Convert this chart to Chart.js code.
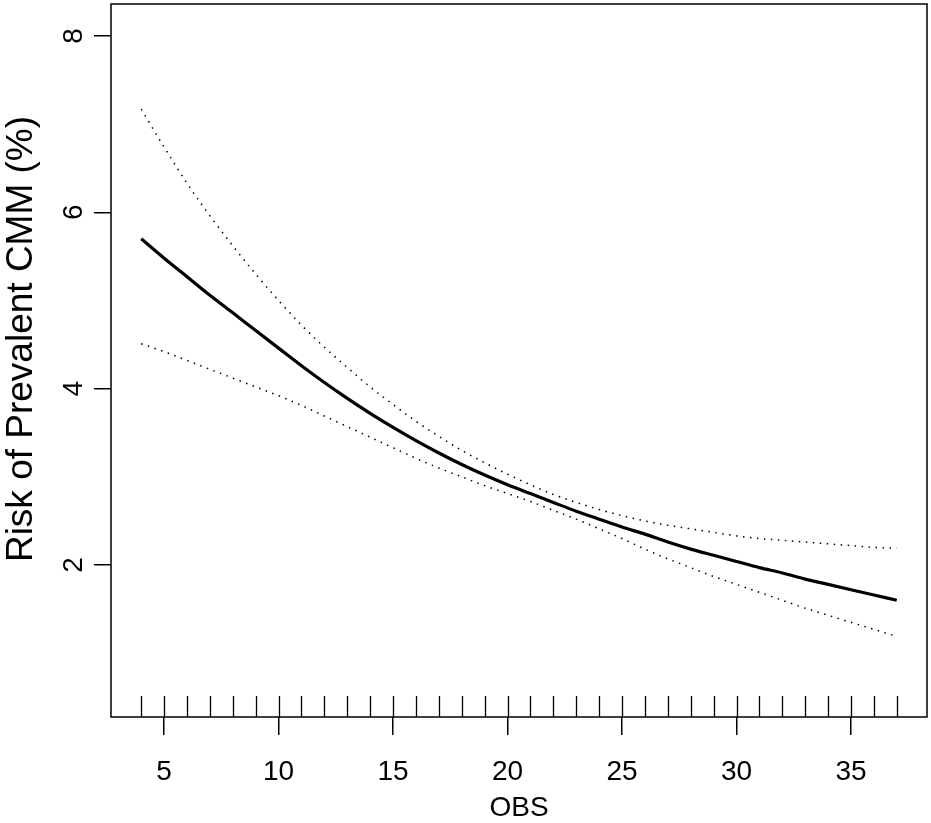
<!DOCTYPE html>
<html>
<head>
    <style>
        body { margin: 0; background: #fff; }
        canvas { display: block; }
    </style>
    <script src="https://cdn.jsdelivr.net/npm/chart.js"></script>
</head>
<body>
    <canvas id="riskChart" width="931" height="823"></canvas>
    <script>
        // OBS values and the fitted risk (%) with its confidence band
        const obs = [4, 5, 6, 7, 8, 9, 10, 11, 12, 13, 14, 15, 16, 17, 18, 19, 20,
                     21, 22, 23, 24, 25, 26, 27, 28, 29, 30, 31, 32, 33, 34, 35, 36, 37];
        const risk = [5.70, 5.48, 5.27, 5.06, 4.86, 4.66, 4.46, 4.26, 4.07, 3.89, 3.72, 3.56, 3.41, 3.27, 3.14, 3.02, 2.91,
                      2.81, 2.71, 2.61, 2.52, 2.43, 2.35, 2.26, 2.18, 2.11, 2.04, 1.97, 1.91, 1.84, 1.78, 1.72, 1.66, 1.60];
        const upperCI = [7.17, 6.74, 6.33, 5.96, 5.62, 5.30, 5.00, 4.72, 4.47, 4.24, 4.02, 3.82, 3.63, 3.46, 3.30, 3.16, 3.03,
                         2.91, 2.80, 2.71, 2.63, 2.56, 2.50, 2.45, 2.41, 2.37, 2.33, 2.30, 2.28, 2.26, 2.24, 2.22, 2.20, 2.19];
        const lowerCI = [4.51, 4.42, 4.32, 4.22, 4.12, 4.02, 3.92, 3.81, 3.69, 3.57, 3.45, 3.33, 3.21, 3.10, 3.00, 2.90, 2.81,
                         2.72, 2.62, 2.52, 2.41, 2.30, 2.18, 2.07, 1.97, 1.87, 1.78, 1.69, 1.60, 1.51, 1.43, 1.35, 1.27, 1.19];
        // observed OBS values shown as a rug along the bottom
        const rugObs = [4, 5, 6, 7, 8, 9, 10, 11, 12, 13, 14, 15, 16, 17, 18, 19, 20,
                        21, 22, 23, 24, 25, 26, 27, 28, 29, 30, 31, 32, 33, 34, 35, 36, 37];
        const xTicks = [5, 10, 15, 20, 25, 30, 35];
        const yTicks = [2, 4, 6, 8];

        const toPoints = (ys) => obs.map((x, i) => ({ x: x, y: ys[i] }));

        Chart.defaults.font.family = '"Liberation Sans", Arial, Helvetica, sans-serif';
        Chart.defaults.color = '#000';

        // box, rug and rotated y title, R style
        const frame = {
            id: 'frame',
            afterDraw(chart) {
                const { ctx, chartArea: a, scales } = chart;
                ctx.save();
                ctx.strokeStyle = '#000';
                ctx.lineWidth = 1.5;
                ctx.strokeRect(a.left, a.top, a.right - a.left, a.bottom - a.top);

                ctx.lineWidth = 1.3;
                ctx.beginPath();
                rugObs.forEach(v => {
                    const px = Math.round(scales.x.getPixelForValue(v)) + 0.5;
                    ctx.moveTo(px, a.bottom);
                    ctx.lineTo(px, a.bottom - 21);
                });
                ctx.stroke();

                ctx.translate(32, 339);
                ctx.rotate(-Math.PI / 2);
                ctx.fillStyle = '#000';
                ctx.font = '37px "Liberation Sans", Arial, sans-serif';
                ctx.textAlign = 'center';
                ctx.textBaseline = 'alphabetic';
                ctx.fillText('Risk of Prevalent CMM (%)', 0, 0);
                ctx.restore();
            }
        };

        const ctx = document.getElementById('riskChart').getContext('2d');
        new Chart(ctx, {
            type: 'line',
            data: {
                datasets: [
                    {
                        label: 'Risk',
                        data: toPoints(risk),
                        borderColor: '#000',
                        borderWidth: 3.2,
                        pointRadius: 0,
                        cubicInterpolationMode: 'monotone'
                    },
                    {
                        label: 'Upper',
                        data: toPoints(upperCI),
                        borderColor: '#000',
                        borderWidth: 1.5,
                        borderDash: [1.5, 5.5],
                        pointRadius: 0,
                        cubicInterpolationMode: 'monotone'
                    },
                    {
                        label: 'Lower',
                        data: toPoints(lowerCI),
                        borderColor: '#000',
                        borderWidth: 1.5,
                        borderDash: [1.5, 5.5],
                        pointRadius: 0,
                        cubicInterpolationMode: 'monotone'
                    }
                ]
            },
            options: {
                responsive: false,
                animation: false,
                layout: { padding: { top: 4, right: 4, left: 0, bottom: 0 } },
                plugins: {
                    legend: { display: false },
                    tooltip: { enabled: false }
                },
                scales: {
                    x: {
                        type: 'linear',
                        min: 2.68,
                        max: 38.32,
                        afterBuildTicks: (scale) => { scale.ticks = xTicks.map(v => ({ value: v })); },
                        afterFit: (scale) => {
                            scale.height = 106;
                            scale.paddingLeft = 0;
                            scale.paddingRight = 0;
                        },
                        border: { display: false },
                        grid: { drawOnChartArea: false, drawTicks: true, tickLength: 18, color: '#000', lineWidth: 1.5 },
                        ticks: { font: { size: 28 }, padding: 20, maxRotation: 0, autoSkip: false },
                        title: { display: true, text: 'OBS', font: { size: 28 }, padding: { top: 0, bottom: -2 } }
                    },
                    y: {
                        min: 0.276,
                        max: 8.363,
                        afterBuildTicks: (scale) => { scale.ticks = yTicks.map(v => ({ value: v })); },
                        afterFit: (scale) => {
                            scale.width = 111;
                            scale.paddingTop = 0;
                            scale.paddingBottom = 0;
                        },
                        border: { display: false },
                        grid: { drawOnChartArea: false, drawTicks: true, tickLength: 17, color: '#000', lineWidth: 1.5 },
                        ticks: { font: { size: 28 }, padding: 12, minRotation: 90, maxRotation: 90, crossAlign: 'center' }
                    }
                }
            },
            plugins: [frame]
        });
    </script>
</body>
</html>
